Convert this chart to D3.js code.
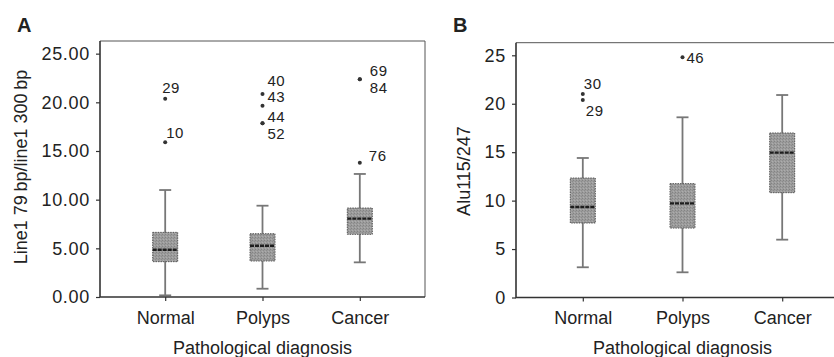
<!DOCTYPE html>
<html>
<head>
<meta charset="utf-8">
<script src="https://cdn.jsdelivr.net/npm/d3@7"></script>
<style>
  body { margin: 0; background: #fff; }
  text { font-family: "Liberation Sans", Arial, sans-serif; fill: #222; }
</style>
</head>
<body>
<div id="chart"></div>
<script>
// categories shared by both panels
let categories = ["Normal", "Polyps", "Cancer"];

// panel A: Line1 79 bp / line1 300 bp
let line1Low = [0.17, 0.85, 3.56];
let line1Q1 = [3.63, 3.70, 6.44];
let line1Median = [4.85, 5.27, 8.05];
let line1Q3 = [6.64, 6.50, 9.14];
let line1High = [10.99, 9.38, 12.64];
let line1Outliers = [
  { cat: "Normal", id: "29", v: 20.37 },
  { cat: "Normal", id: "10", v: 15.89 },
  { cat: "Polyps", id: "40", v: 20.85 },
  { cat: "Polyps", id: "43", v: 19.65 },
  { cat: "Polyps", id: "44", v: 17.84 },
  { cat: "Polyps", id: "52", v: 17.84 },
  { cat: "Cancer", id: "69", v: 22.36 },
  { cat: "Cancer", id: "84", v: 22.36 },
  { cat: "Cancer", id: "76", v: 13.79 }
];
let line1Ticks = [0, 5, 10, 15, 20, 25];

// panel B: Alu115/247
let aluLow = [3.12, 2.60, 5.97];
let aluQ1 = [7.69, 7.17, 10.82];
let aluMedian = [9.34, 9.72, 14.95];
let aluQ3 = [12.33, 11.75, 16.98];
let aluHigh = [14.40, 18.60, 20.90];
let aluOutliers = [
  { cat: "Normal", id: "30", v: 21.00 },
  { cat: "Normal", id: "29", v: 20.39 },
  { cat: "Polyps", id: "46", v: 24.79 }
];
let aluTicks = [0, 5, 10, 15, 20, 25];

// where the case-number labels sit next to their dot (dx, dy in px)
let labelOffsetA = { "29": [-3, -11], "10": [1, -10], "40": [5, -13], "43": [5, -9],
  "44": [5, -7], "52": [5, 10], "69": [10, -9], "84": [10, 8], "76": [9, -7] };
let labelOffsetB = { "30": [1, -10], "29": [3, 11], "46": [4, 0] };

let width = 834, height = 357;

let svg = d3.select("#chart").append("svg")
  .attr("width", width)
  .attr("height", height);

let defs = svg.append("defs");
let pat = defs.append("pattern")
  .attr("id", "hatch")
  .attr("patternUnits", "userSpaceOnUse")
  .attr("width", 3)
  .attr("height", 3);
pat.append("rect").attr("width", 3).attr("height", 3).attr("fill", "#9c9c9c");
pat.append("rect").attr("x", 0).attr("y", 0).attr("width", 1).attr("height", 1).attr("fill", "#838383");
pat.append("rect").attr("x", 2).attr("y", 1).attr("width", 1).attr("height", 1).attr("fill", "#8c8c8c");
pat.append("rect").attr("x", 1).attr("y", 2).attr("width", 1).attr("height", 1).attr("fill", "#adadad");

function panel(cfg) {
  let g = svg.append("g");

  let x = d3.scalePoint()
    .domain(categories)
    .range([cfg.left, cfg.right])
    .padding(0.67);

  let y = d3.scaleLinear()
    .domain([0, cfg.yTop])
    .range([cfg.bottom, cfg.top]);

  let stats = categories.map((c, i) => ({
    cat: c, low: cfg.low[i], q1: cfg.q1[i], med: cfg.med[i], q3: cfg.q3[i], high: cfg.high[i]
  }));

  // frame: thin top and right
  g.append("path")
    .attr("d", `M${cfg.left},${cfg.top}H${cfg.right}V${cfg.bottom}`)
    .attr("fill", "none")
    .attr("stroke", "#555")
    .attr("stroke-width", 1);

  let boxW = 25, capW = 12;

  let box = g.selectAll(".box")
    .data(stats)
    .enter().append("g")
    .attr("class", "box");

  box.append("line")
    .attr("x1", d => x(d.cat)).attr("x2", d => x(d.cat))
    .attr("y1", d => y(d.low)).attr("y2", d => y(d.high))
    .attr("stroke", "#777").attr("stroke-width", 1.8);

  box.selectAll(".cap")
    .data(d => [{ cat: d.cat, v: d.low }, { cat: d.cat, v: d.high }])
    .enter().append("line")
    .attr("class", "cap")
    .attr("x1", d => x(d.cat) - capW / 2).attr("x2", d => x(d.cat) + capW / 2)
    .attr("y1", d => y(d.v)).attr("y2", d => y(d.v))
    .attr("stroke", "#777").attr("stroke-width", 1.8);

  box.append("rect")
    .attr("x", d => x(d.cat) - boxW / 2)
    .attr("y", d => y(d.q3))
    .attr("width", boxW)
    .attr("height", d => y(d.q1) - y(d.q3))
    .attr("fill", "url(#hatch)")
    .attr("stroke", "#555")
    .attr("stroke-width", 1)
    .attr("stroke-dasharray", "1.5 1");

  box.append("line")
    .attr("x1", d => x(d.cat) - boxW / 2).attr("x2", d => x(d.cat) + boxW / 2)
    .attr("y1", d => y(d.med)).attr("y2", d => y(d.med))
    .attr("stroke", "#1e1e1e").attr("stroke-width", 2.4)
    .attr("stroke-dasharray", "4 1");

  // outliers
  g.selectAll(".dot")
    .data(cfg.outliers)
    .enter().append("circle")
    .attr("class", "dot")
    .attr("cx", d => x(d.cat))
    .attr("cy", d => y(d.v))
    .attr("r", 2)
    .attr("fill", "#333");

  g.selectAll(".olab")
    .data(cfg.outliers)
    .enter().append("text")
    .attr("class", "olab")
    .attr("x", d => x(d.cat) + cfg.offsets[d.id][0])
    .attr("y", d => y(d.v) + cfg.offsets[d.id][1])
    .attr("dy", "0.36em")
    .style("font-size", "15px")
    .style("letter-spacing", "0.5px")
    .text(d => d.id);

  // axes
  let yAxis = g.append("g")
    .attr("transform", `translate(${cfg.left},0)`)
    .call(d3.axisLeft(y).tickValues(cfg.ticks).tickFormat(cfg.fmt).tickSize(4).tickPadding(6));

  let xAxis = g.append("g")
    .attr("transform", `translate(0,${cfg.bottom})`)
    .call(d3.axisBottom(x).tickSize(4).tickPadding(10));

  [yAxis, xAxis].forEach(a => {
    a.select(".domain").remove();
    a.selectAll(".tick line").attr("stroke", "#333").attr("stroke-width", 1.2);
    a.selectAll("text").style("font-size", "18px").attr("fill", "#222")
      .style("font-family", "'Liberation Sans', Arial, sans-serif");
  });
  yAxis.selectAll("text").style("letter-spacing", "0.7px");

  // axis lines
  g.append("path")
    .attr("d", `M${cfg.left},${cfg.top}V${cfg.bottom}H${cfg.right}`)
    .attr("fill", "none")
    .attr("stroke", "#333")
    .attr("stroke-width", 1.6);

  g.append("text")
    .attr("transform", `translate(${cfg.yTitleX},${cfg.yTitleY}) rotate(-90)`)
    .attr("text-anchor", "middle")
    .attr("dy", "0.35em")
    .style("font-size", "18px")
    .text(cfg.yTitle);

  g.append("text")
    .attr("x", (x(categories[0]) + x(categories[2])) / 2)
    .attr("y", 354)
    .attr("text-anchor", "middle")
    .style("font-size", "18px")
    .text("Pathological diagnosis");

  g.append("text")
    .attr("x", cfg.letterX)
    .attr("y", 32)
    .style("font-size", "20px")
    .style("font-weight", "bold")
    .attr("fill", "#111")
    .text(cfg.letter);
}

panel({
  letter: "A", letterX: 17,
  left: 100, right: 425, top: 41, bottom: 297, yTop: 26.3,
  low: line1Low, q1: line1Q1, med: line1Median, q3: line1Q3, high: line1High,
  outliers: line1Outliers, offsets: labelOffsetA,
  ticks: line1Ticks, fmt: d3.format(".2f"),
  yTitle: "Line1 79\u2009bp/line1 300\u2009bp", yTitleX: 21, yTitleY: 167
});

panel({
  letter: "B", letterX: 453,
  left: 516, right: 849, top: 42.7, bottom: 297.5, yTop: 26.3,
  low: aluLow, q1: aluQ1, med: aluMedian, q3: aluQ3, high: aluHigh,
  outliers: aluOutliers, offsets: labelOffsetB,
  ticks: aluTicks, fmt: d3.format("d"),
  yTitle: "Alu115/247", yTitleX: 464, yTitleY: 171
});
</script>
</body>
</html>
